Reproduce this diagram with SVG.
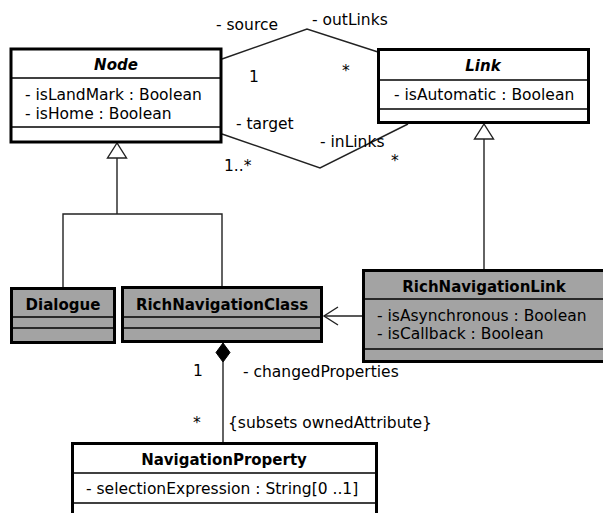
<svg xmlns="http://www.w3.org/2000/svg" width="603" height="513" viewBox="0 0 603 513">
<style>
text{font-family:"DejaVu Sans","Liberation Sans",sans-serif;fill:#000}
.t{font-size:15px;font-weight:bold;text-anchor:middle}
.a{font-size:15.5px}
.l{font-size:15.5px}
.box{stroke:#000;stroke-width:3}
.w{fill:#fff}
.g{fill:#a3a3a3}
.div{stroke:#000;stroke-width:1.5}
.c{fill:none;stroke:#222;stroke-width:1.4}
</style>
<g id="connectors">
<polyline class="c" points="222,59 307,29 378,52"/>
<polyline class="c" points="222,134 320,168 408,124"/>
<polygon class="c" fill="#fff" points="117,143 107.5,158 126.5,158"/>
<polyline class="c" points="117,158 117,214"/>
<polyline class="c" points="63,287 63,214 222,214 222,286"/>
<polygon class="c" fill="#fff" points="484,124 474.5,139 493.5,139"/>
<line class="c" x1="484" y1="139" x2="484" y2="269"/>
<line class="c" x1="362" y1="316" x2="324" y2="316"/>
<polyline class="c" points="338,307 324,316 338,325"/>
<polygon fill="#000" stroke="#000" points="223,343 230,352.5 223,362 216,352.5"/>
<line class="c" x1="223" y1="362" x2="223" y2="442"/>
<text class="l" x="216" y="30">- source</text>
<text class="l" x="312" y="25">- outLinks</text>
<text class="l" x="249" y="82">1</text>
<text class="l" x="342" y="76">*</text>
<text class="l" x="236" y="129">- target</text>
<text class="l" x="224" y="171">1..*</text>
<text class="l" x="320" y="147">- inLinks</text>
<text class="l" x="391" y="166">*</text>
<text class="l" x="193" y="376">1</text>
<text class="l" x="243" y="377">- changedProperties</text>
<text class="l" x="193" y="428">*</text>
<text class="l" x="228" y="428">{subsets ownedAttribute}</text>
</g>
<g id="Node">
<rect class="box w" x="11" y="49" width="210" height="93"/>
<line class="div" x1="11" y1="78" x2="221" y2="78"/>
<line class="div" x1="11" y1="127" x2="221" y2="127"/>
<text class="t" x="116" y="70" font-style="italic">Node</text>
<text class="a" x="25" y="100">- isLandMark : Boolean</text>
<text class="a" x="25" y="119">- isHome : Boolean</text>
</g>
<g id="Link">
<rect class="box w" x="378.5" y="49.5" width="210" height="73"/>
<line class="div" x1="378.5" y1="80" x2="588.5" y2="80"/>
<line class="div" x1="378.5" y1="109" x2="588.5" y2="109"/>
<text class="t" x="483" y="71" font-style="italic">Link</text>
<text class="a" x="394" y="100">- isAutomatic : Boolean</text>
</g>
<g id="Dialogue">
<rect class="box g" x="11.5" y="288.5" width="103" height="54"/>
<line class="div" x1="11.5" y1="317" x2="114.5" y2="317"/>
<line class="div" x1="11.5" y1="328" x2="114.5" y2="328"/>
<text class="t" x="63" y="310">Dialogue</text>
</g>
<g id="RichNavigationClass">
<rect class="box g" x="122.5" y="287.5" width="199" height="54"/>
<line class="div" x1="122.5" y1="317" x2="321.5" y2="317"/>
<line class="div" x1="122.5" y1="328" x2="321.5" y2="328"/>
<text class="t" x="222" y="310">RichNavigationClass</text>
</g>
<g id="RichNavigationLink">
<rect class="box g" x="363.5" y="270.5" width="242" height="91"/>
<line class="div" x1="363.5" y1="299" x2="605" y2="299"/>
<line class="div" x1="363.5" y1="349" x2="605" y2="349"/>
<text class="t" x="484" y="292">RichNavigationLink</text>
<text class="a" x="377" y="321">- isAsynchronous : Boolean</text>
<text class="a" x="377" y="339">- isCallback : Boolean</text>
</g>
<g id="NavigationProperty">
<rect class="box w" x="72.5" y="443.5" width="304" height="80"/>
<line class="div" x1="72.5" y1="473" x2="376.5" y2="473"/>
<line class="div" x1="72.5" y1="503" x2="376.5" y2="503"/>
<text class="t" x="224" y="465">NavigationProperty</text>
<text class="a" x="86" y="494">- selectionExpression : String[0 ..1]</text>
</g>
</svg>
